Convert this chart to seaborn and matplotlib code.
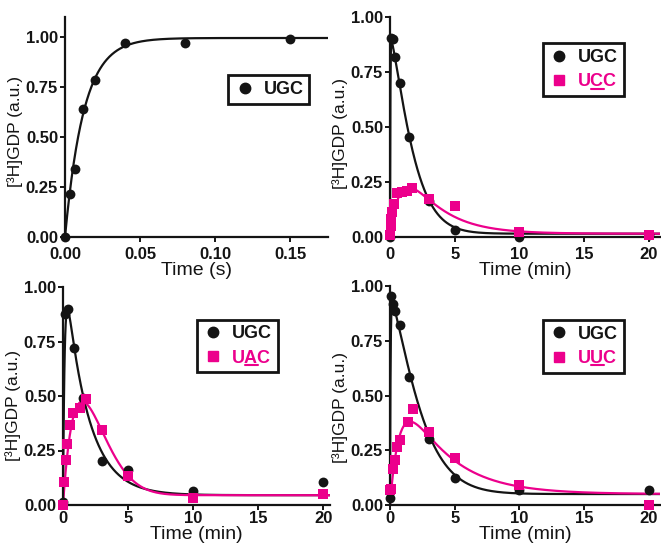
import numpy as np
import matplotlib
matplotlib.use("Agg")
import matplotlib.pyplot as plt
import seaborn as sns
from matplotlib.lines import Line2D

BLACK = "#141414"
PINK = "#ec008c"

# ---- panel 1: UGC, time in seconds
p1_t = [0, 0.0033, 0.0067, 0.012, 0.02, 0.04, 0.08, 0.15]
p1_ugc = [0.0, 0.215, 0.34, 0.64, 0.785, 0.97, 0.968, 0.99]

# ---- panel 2: UGC vs UCC, time in minutes
p2_t_ugc = [0, 0.1, 0.2, 0.35, 0.75, 1.5, 3, 5, 10, 20]
p2_ugc = [0.0, 0.905, 0.9, 0.82, 0.70, 0.455, 0.165, 0.032, 0.0, 0.01]
p2_t_ucc = [0, 0.05, 0.1, 0.17, 0.33, 0.55, 0.9, 1.3, 1.7, 3, 5, 10, 20]
p2_ucc = [0.01, 0.05, 0.08, 0.115, 0.15, 0.2, 0.205, 0.21, 0.225, 0.172, 0.14, 0.024, 0.01]

# ---- panel 3: UGC vs UAC
p3_t_ugc = [0, 0.17, 0.4, 0.87, 1.5, 3, 5, 10, 20]
p3_ugc = [0.012, 0.875, 0.9, 0.72, 0.49, 0.2, 0.16, 0.063, 0.104]
p3_t_uac = [0, 0.1, 0.2, 0.33, 0.52, 0.75, 1.3, 1.8, 3, 5, 10, 20]
p3_uac = [0.0, 0.105, 0.205, 0.28, 0.365, 0.42, 0.443, 0.486, 0.344, 0.134, 0.032, 0.05]

# ---- panel 4: UGC vs UUC
p4_t_ugc = [0, 0.1, 0.2, 0.4, 0.77, 1.5, 3, 5, 10, 20]
p4_ugc = [0.03, 0.955, 0.92, 0.887, 0.82, 0.583, 0.30, 0.122, 0.07, 0.067]
p4_t_uuc = [0, 0.08, 0.2, 0.39, 0.55, 0.77, 1.4, 1.8, 3, 5, 10, 20]
p4_uuc = [0.068, 0.075, 0.163, 0.205, 0.266, 0.297, 0.38, 0.437, 0.335, 0.213, 0.093, 0.0]

# fitted curve parameters: plateau, amplitude, k_rise, tau, exponent
fit_p1 = (0.995, 0.0, 80.0, 1.0, 1.0)
fit_p2_ugc = (0.015, 0.905, 40.0, 1.93, 1.3)
fit_p2_ucc = (0.015, 0.58, 0.75, 2.5, 1.0)
fit_p3_ugc = (0.045, 1.12, 7.8, 1.72, 1.0)
fit_p3_uac = (0.045, 0.59, 1.38, 3.64, 2.0)
fit_p4_ugc = (0.05, 0.91, 25.0, 2.6, 1.3)
fit_p4_uuc = (0.05, 0.69, 1.0, 3.33, 1.0)


def model(t, plateau, amp, k_rise, tau, n):
    return (plateau + amp * np.exp(-(t / tau) ** n)) * (1 - np.exp(-k_rise * t))


sns.set_style("ticks")
plt.rcParams["font.family"] = ["Liberation Sans", "DejaVu Sans"]

W, H = 661, 546
fig = plt.figure(figsize=(W / 100, H / 100), dpi=100)


def make_axes(left, bottom_px, width, height):
    return fig.add_axes([left / W, (H - bottom_px) / H, width / W, height / H])


def style_axes(ax, xlim, ylim, xticks, xfmt, xpad, ylab_y):
    ax.set_xlim(*xlim)
    ax.set_ylim(*ylim)
    ax.set_xticks(xticks)
    ax.set_xticklabels([xfmt.format(v) for v in xticks])
    ax.set_yticks([0, 0.25, 0.5, 0.75, 1.0])
    ax.set_yticklabels(["0.00", "0.25", "0.50", "0.75", "1.00"])
    for side in ["top", "right"]:
        ax.spines[side].set_visible(False)
    for side in ["left", "bottom"]:
        ax.spines[side].set_linewidth(1.6)
        ax.spines[side].set_color(BLACK)
    ax.tick_params(axis="both", direction="out", length=3.5, width=1.4, color=BLACK,
                   labelsize=12, labelcolor=BLACK)
    ax.tick_params(axis="x", pad=xpad)
    ax.tick_params(axis="y", pad=1.5)
    for lab in ax.get_xticklabels() + ax.get_yticklabels():
        lab.set_fontweight("bold")
    ax.set_ylabel("[³H]GDP (a.u.)", fontsize=12.5, color=BLACK)
    ax.yaxis.set_label_coords(-42 / ax.bbox.width, ylab_y)


def draw_series(ax, t, y, params, color, marker, tmax):
    tt = np.linspace(0, tmax, 600)
    sns.lineplot(x=tt, y=model(tt, *params), color=color, lw=1.6, ax=ax, legend=False, zorder=2)
    sns.scatterplot(x=t, y=y, color=color, marker=marker, s=50, linewidth=0, ax=ax,
                    legend=False, zorder=3, clip_on=False)


def add_legend(ax, labels, colors, markers, anchor):
    handles = [Line2D([], [], linestyle="none", marker=m, color=c, markersize=7.5)
               for c, m in zip(colors, markers)]
    leg = ax.legend(handles, labels, loc="upper left", bbox_to_anchor=anchor,
                    frameon=True, fancybox=False, framealpha=1, edgecolor=BLACK,
                    prop={"size": 13, "weight": "bold"}, handlelength=1.2,
                    handletextpad=0.45, borderpad=0.32, labelspacing=0.4, borderaxespad=0)
    leg.get_frame().set_linewidth(2)
    for txt, c in zip(leg.get_texts(), colors):
        txt.set_color(c)
    return leg


# panel 1
ax1 = make_axes(65, 237, 263, 220)
draw_series(ax1, p1_t, p1_ugc, fit_p1, BLACK, "o", 0.175)
style_axes(ax1, (0, 0.175), (0, 1.1), [0, 0.05, 0.10, 0.15], "{:.2f}", 4, 0.48)
ax1.set_xlabel("Time (s)", fontsize=14, color=BLACK, labelpad=0)
add_legend(ax1, ["UGC"], [BLACK], ["o"], (0.62, 0.736))

# panel 2
ax2 = make_axes(390, 237, 270, 220)
draw_series(ax2, p2_t_ugc, p2_ugc, fit_p2_ugc, BLACK, "o", 20.85)
draw_series(ax2, p2_t_ucc, p2_ucc, fit_p2_ucc, PINK, "s", 20.85)
style_axes(ax2, (0, 20.85), (0, 1.0), [0, 5, 10, 15, 20], "{:d}", 4, 0.47)
ax2.set_xlabel("Time (min)", fontsize=14, color=BLACK, labelpad=0)
leg2 = add_legend(ax2, ["UGC", "UCC"], [BLACK, PINK], ["o", "s"], (0.565, 0.88))

# panel 3
ax3 = make_axes(63, 505, 267, 218)
draw_series(ax3, p3_t_ugc, p3_ugc, fit_p3_ugc, BLACK, "o", 20.5)
draw_series(ax3, p3_t_uac, p3_uac, fit_p3_uac, PINK, "s", 20.5)
style_axes(ax3, (0, 20.5), (0, 1.0), [0, 5, 10, 15, 20], "{:d}", 1, 0.455)
ax3.set_xlabel("Time (min)", fontsize=14, color=BLACK, labelpad=0)
leg3 = add_legend(ax3, ["UGC", "UAC"], [BLACK, PINK], ["o", "s"], (0.50, 0.85))

# panel 4
ax4 = make_axes(390, 505, 270, 219)
draw_series(ax4, p4_t_ugc, p4_ugc, fit_p4_ugc, BLACK, "o", 20.85)
draw_series(ax4, p4_t_uuc, p4_uuc, fit_p4_uuc, PINK, "s", 20.85)
style_axes(ax4, (0, 20.85), (0, 1.0), [0, 5, 10, 15, 20], "{:d}", 1, 0.445)
ax4.set_xlabel("Time (min)", fontsize=14, color=BLACK, labelpad=0)
leg4 = add_legend(ax4, ["UGC", "UUC"], [BLACK, PINK], ["o", "s"], (0.565, 0.845))

# underline the mutated middle base in the pink labels
fig.canvas.draw()
renderer = fig.canvas.get_renderer()
for leg in [leg2, leg3, leg4]:
    txt = leg.get_texts()[1]
    bb = txt.get_window_extent(renderer)
    prop = txt.get_fontproperties()
    w1 = renderer.get_text_width_height_descent(txt.get_text()[:1], prop, ismath=False)[0]
    w2 = renderer.get_text_width_height_descent(txt.get_text()[:2], prop, ismath=False)[0]
    desc = renderer.get_text_width_height_descent("lp", prop, ismath=False)[2]
    y = bb.y0 + desc - 2.5
    fig.add_artist(Line2D([(bb.x0 + w1) / W, (bb.x0 + w2) / W], [y / H, y / H],
                          transform=fig.transFigure, color=PINK, lw=1.5))

fig.savefig("out.png", dpi=100)
